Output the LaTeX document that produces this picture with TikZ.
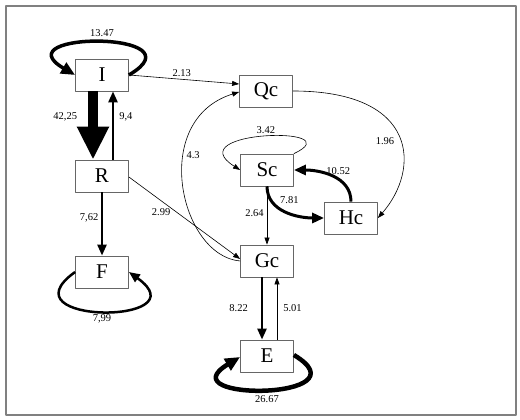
\documentclass[tikz,border=0pt]{standalone}
\usepackage{fontspec}
\setmainfont{Liberation Serif}
\usetikzlibrary{arrows.meta}

\begin{document}
\begin{tikzpicture}[x=1pt, y=1pt, line join=round,
  box/.style={draw=black!60, line width=0.8pt, minimum width=53pt, minimum height=32pt, inner sep=0pt, font=\fontsize{21}{22}\selectfont},
  lbl/.style={font=\fontsize{10.5}{12}\selectfont, inner sep=1pt},
  flowthin/.style={line width=0.6pt, -{Triangle[length=7pt,width=5pt]}},
  flowmid/.style={line width=2.5pt, -{Triangle[length=11pt,width=9pt]}},
  flowthick/.style={line width=3pt, -{Triangle[length=12pt,width=10pt]}},
  flowheavy/.style={line width=4.5pt, -{Triangle[length=15pt,width=13pt]}},
  flowhuge/.style={line width=10pt, -{Triangle[length=33pt,width=30pt]}}]
% Khung ngoai
\useasboundingbox (0,0) rectangle (520,420);
\draw[black!50, line width=2pt] (6,5) rectangle (516,414);
% Cac hop
\node[box] (I) at (102,345) {I};
\node[box] (R) at (102,244) {R};
\node[box] (F) at (102,148) {F};
\node[box] (Qc) at (266,329) {Qc};
\node[box] (Sc) at (267,250) {Sc};
\node[box] (Hc) at (351,202) {Hc};
\node[box] (Gc) at (267,159) {Gc};
\node[box] (E) at (267,64) {E};
% Vong lap
\draw[line width=3.5pt, -{Triangle[length=14pt,width=12pt]}] (I.east) .. controls +(75,44) and +(-75,44) .. (I.west) node[lbl, pos=.5, above=3pt] {13.47};
\draw[flowthin] (Sc.north east) .. controls +(60,28) and +(-63,40) .. (Sc.west) node[lbl, pos=.5, above=1pt] {3.42};
\draw[flowheavy] ([yshift=1pt]E.east) .. controls +(75,-45) and +(-75,-45) .. ([yshift=-1pt]E.west) node[lbl, pos=.5, below=3pt] {26.67};
\draw[flowmid] (F.west) .. controls +(-74,-53) and +(74,-53) .. (F.east) node[lbl, pos=.5, below=1pt] {7,99};
% Cot ben trai
\draw[flowhuge] ([xshift=-9pt]I.south) -- ([xshift=-9pt]R.north) node[lbl, pos=.38, left=10pt] {42,25};
\draw[flowmid] ([xshift=11pt]R.north) -- ([xshift=11pt]I.south) node[lbl, pos=.62, right=4pt] {9,4};
\draw[flowmid] (R.south) -- (F.north) node[lbl, pos=.41, left=1.5pt] {7,62};
% Sang ben phai
\draw[flowthin] (I.east) -- ([yshift=7pt]Qc.west) node[lbl, pos=.48, above=1pt] {2.13};
\draw[flowthin] ([yshift=-1pt]R.east) -- ([yshift=2pt]Gc.west) node[lbl, pos=.29, below=6pt] {2.99};
\draw[flowthin] (Gc.west) .. controls +(-60,5) and +(-90,-28) .. ([yshift=-1pt]Qc.west) node[lbl, pos=.63, right=1pt] {4.3};
\draw[flowthin] (Qc.east) .. controls +(127,0) and +(42,48) .. (Hc.east) node[lbl, pos=.53, left=5pt] {1.96};
% Sc, Hc, Gc, E
\draw[flowthick] (Sc.south) to[out=-90, in=180] node[lbl, pos=.55, above=7pt] {7.81} (Hc.west);
\draw[flowthick] (Hc.north) to[out=90, in=0] node[lbl, pos=.4, above=2pt] {10.52} (Sc.east);
\draw[flowthin] (Sc.south) -- (Gc.north) node[lbl, pos=.46, left=2pt] {2.64};
\draw[flowmid] ([xshift=-5pt]Gc.south) -- ([xshift=-5pt]E.north) node[lbl, pos=.49, left=12pt] {8.22};
\draw[flowthin] ([xshift=10pt]E.north) -- ([xshift=10pt]Gc.south) node[lbl, pos=.51, right=5pt] {5.01};
\end{tikzpicture}
\end{document}
